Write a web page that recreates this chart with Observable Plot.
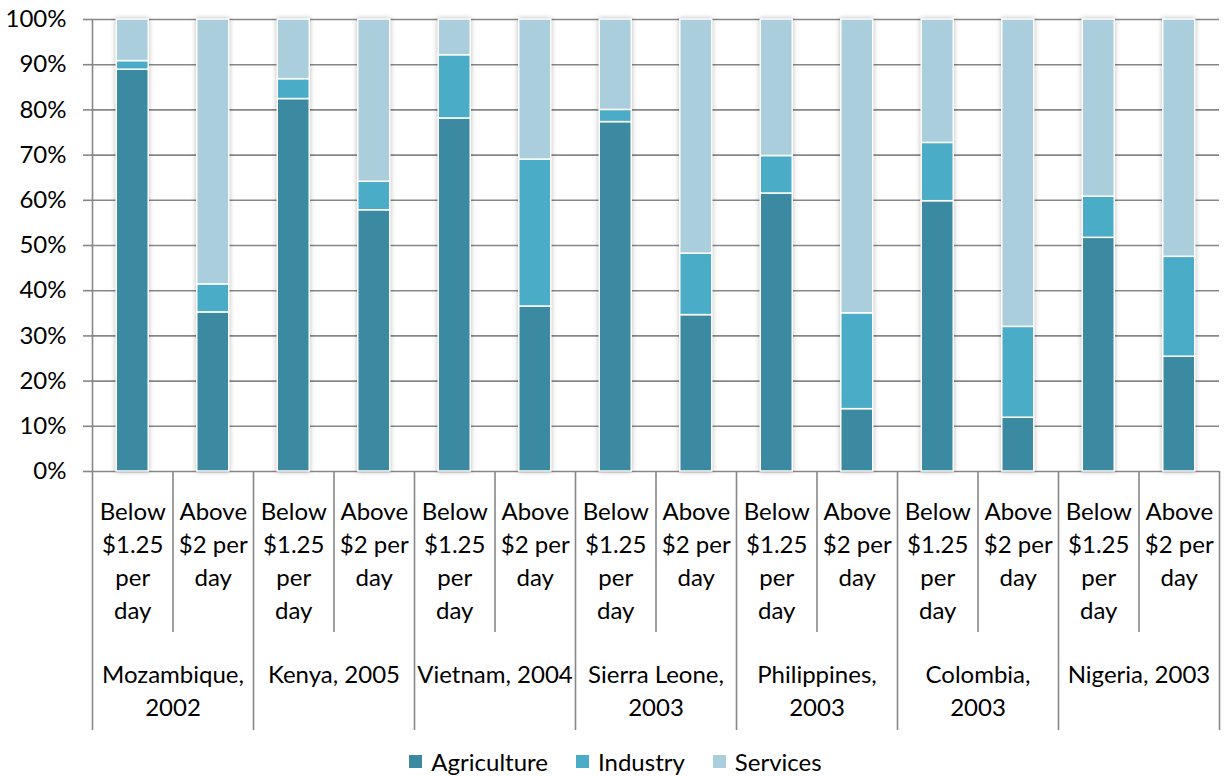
<!DOCTYPE html>
<html>
<head>
<meta charset="utf-8">
<script src="https://cdn.jsdelivr.net/npm/d3@7"></script>
<script src="https://cdn.jsdelivr.net/npm/@observablehq/plot@0.6"></script>
<style>
  html, body { margin: 0; padding: 0; background: #fff; }
  body { width: 1225px; height: 776px; overflow: hidden; font-family: Lato, "Open Sans", sans-serif; }
  #legend { display: flex; justify-content: center; align-items: center; height: 38px; font-size: 24px; color: #000; padding-left: 6px; }
  .item { display: flex; align-items: center; margin: 0 14px; }
  .sw { width: 13px; height: 13px; margin-right: 9px; }
</style>
</head>
<body>
<div id="chart"></div>
<div id="legend"></div>
<script>
// ---- data ----
const countries = ["Mozambique, 2002", "Kenya, 2005", "Vietnam, 2004", "Sierra Leone, 2003", "Philippines, 2003", "Colombia, 2003", "Nigeria, 2003"];
const countryLabels = ["Mozambique,\n2002", "Kenya, 2005", "Vietnam, 2004", "Sierra Leone,\n2003", "Philippines,\n2003", "Colombia,\n2003", "Nigeria, 2003"];
const incomeGroups = ["Below $1.25 per day", "Above $2 per day"];
const incomeLabels = ["Below\n$1.25\nper\nday", "Above\n$2 per\nday"];
const sectors = ["Agriculture", "Industry", "Services"];
const sectorColors = ["#3B8AA1", "#4AACC6", "#AACEDC"];
const agriculture = [88.9, 35.2, 82.4, 57.8, 78.1, 36.5, 77.3, 34.6, 61.5, 13.8, 59.8, 11.9, 51.7, 25.4];
const industry    = [1.9, 6.2, 4.4, 6.3, 14.0, 32.5, 2.7, 13.6, 8.3, 21.2, 12.9, 20.1, 9.1, 22.1];
const services    = [9.2, 58.6, 13.2, 35.9, 7.9, 31.0, 20.0, 51.8, 30.2, 65.0, 27.3, 68.0, 39.2, 52.5];
const yTicks = [0, 10, 20, 30, 40, 50, 60, 70, 80, 90, 100];

// ---- build tables ----
const bars = [];
countries.forEach(c => incomeGroups.forEach(g => bars.push({country: c, income: g, key: c + " | " + g})));
const keys = bars.map(b => b.key);
const series = [agriculture, industry, services];
const rows = [];
bars.forEach((b, i) => sectors.forEach((s, j) => rows.push({key: b.key, sector: s, value: series[j][i]})));
const subLabelRows = bars.map(b => ({key: b.key, label: incomeLabels[incomeGroups.indexOf(b.income)]}));
const groupRows = countries.map((c, i) => ({key: c + " | " + incomeGroups[0], label: countryLabels[i]}));

// ---- layout ----
const W = 1225, H = 742, mL = 92, mR = 6, mT = 19, mB = H - 471;
const bw = (W - mL - mR) / keys.length;
const pxPerUnit = (H - mT - mB) / 100;
const barInset = (bw - 32) / 2;
const deepSep = -(730 - 471) / pxPerUnit;
const shallowSep = -(632 - 471) / pxPerUnit;
const gray = "#878787";
const fs = 24;

const sepRows = keys.map((k, i) => ({key: k, deep: i % 2 === 0, axis: i === 0}));

const plot = Plot.plot({
  width: W, height: H,
  marginLeft: mL, marginRight: mR, marginTop: mT, marginBottom: mB,
  style: {fontFamily: "Lato, 'Open Sans', sans-serif", fontSize: fs + "px", color: "#000", background: "#fff", overflow: "visible"},
  x: {type: "band", domain: keys, padding: 0, round: false, axis: null},
  y: {domain: [0, 100], axis: null},
  color: {domain: sectors, range: sectorColors},
  marks: [
    Plot.ruleY(yTicks, {stroke: gray, strokeWidth: 1.6}),
    Plot.axisY({ticks: yTicks, tickFormat: d => d + "%", tickSize: 9, tickPadding: 17, stroke: gray, strokeWidth: 1.6, fontSize: fs, fill: "#000", label: null}),
    Plot.barY(rows, {x: "key", y: "value", fill: "sector", stroke: "#fff", strokeWidth: 1.5, insetLeft: barInset, insetRight: barInset}),
    Plot.ruleX(sepRows, {x: "key", dx: -bw / 2, y1: d => d.axis ? 100 : 0, y2: d => d.deep ? deepSep : shallowSep, stroke: gray, strokeWidth: 1.6}),
    Plot.ruleX([keys[keys.length - 1]], {x: d => d, dx: bw / 2, y1: 0, y2: deepSep, stroke: gray, strokeWidth: 1.6}),
    Plot.text(subLabelRows, {x: "key", y: 0, text: "label", dy: 25, lineAnchor: "top", lineHeight: 1.375, fontSize: fs, fill: "#000"}),
    Plot.text(groupRows, {x: "key", y: 0, text: "label", dx: bw / 2, dy: 188, lineAnchor: "top", lineHeight: 1.375, fontSize: fs, fill: "#000"})
  ]
});
document.getElementById("chart").appendChild(plot);
d3.select(plot).selectAll('g[aria-label="bar"]').style("filter", "drop-shadow(0px 0px 2.5px rgba(0,0,0,0.28))");

// ---- legend ----
const legend = d3.select("#legend");
sectors.forEach((s, i) => {
  const it = legend.append("div").attr("class", "item");
  it.append("div").attr("class", "sw").style("background", sectorColors[i]);
  it.append("span").text(s);
});
</script>
</body>
</html>
